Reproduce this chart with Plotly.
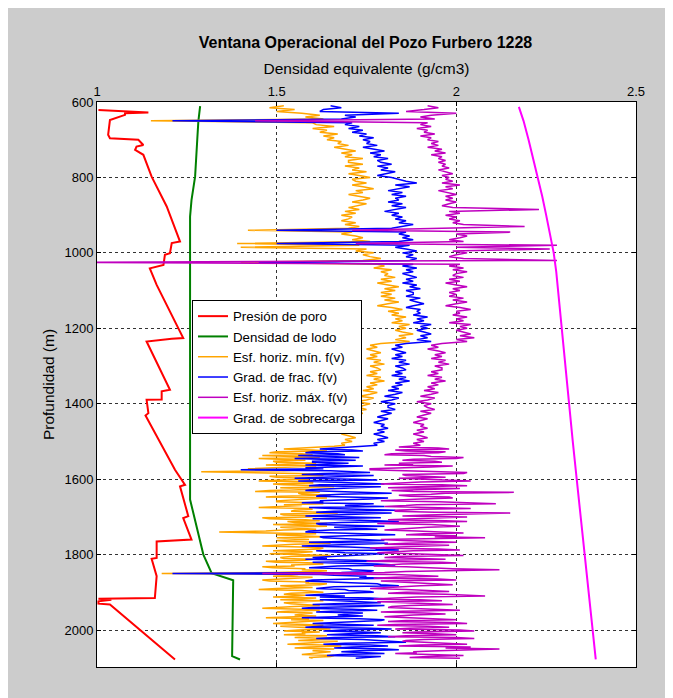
import plotly.graph_objects as go

# ---------------- data ----------------
# Presión de poro (red)
PORO_DEPTH = [621, 624, 628, 630, 634, 648, 687, 696, 700, 714, 718, 727, 736, 740, 798, 877, 970, 974,
              1001, 1005, 1032, 1041, 1085, 1226, 1228, 1235, 1363, 1367, 1389, 1389.5, 1425, 1431, 1575,
              1615, 1619, 1698, 1703, 1760, 1765, 1809, 1811, 1857, 1915, 1917, 1920, 1924, 1930, 1932, 2078]
PORO_VAL = [1.004, 1.078, 1.143, 1.078, 1.078, 1.036, 1.031, 1.036, 1.115, 1.129, 1.110, 1.106, 1.125, 1.129,
            1.152, 1.194, 1.231, 1.208, 1.203, 1.189, 1.185, 1.147, 1.166, 1.240, 1.208, 1.138, 1.203, 1.180,
            1.180, 1.138, 1.143, 1.135, 1.217, 1.245, 1.231, 1.254, 1.240, 1.263, 1.166, 1.166, 1.152, 1.166,
            1.161, 1.004, 1.040, 1.004, 1.004, 1.036, 1.217]

# Densidad de lodo (green)
LODO_DEPTH = [611, 652, 700, 798, 860, 904, 1654, 1707, 1800, 1849, 1861, 1868, 2069, 2078]
LODO_VAL = [1.287, 1.282, 1.279, 1.273, 1.263, 1.259, 1.259, 1.273, 1.296, 1.319, 1.356, 1.379, 1.376, 1.398]

# Grad. de sobrecarga (magenta)
SOBRE_DEPTH = [613, 650, 700, 750, 800, 850, 900, 950, 1000, 1050, 1100, 1200, 1300, 1400, 1500, 1600,
               1700, 1800, 1900, 2000, 2078]
SOBRE_VAL = [2.174, 2.187, 2.201, 2.214, 2.227, 2.239, 2.250, 2.261, 2.271, 2.278, 2.283, 2.294, 2.304,
             2.313, 2.324, 2.335, 2.346, 2.357, 2.368, 2.380, 2.388]

# Log samples: every 5 m from 610 to 1505 m, every 2.5 m from 1510 to 2075 m
LOG_DEPTH = list(range(610, 1510, 5)) + [1510 + 2.5 * i for i in range(227)]

ESF_MIN = [
    # 610 - 1505 (5 m)
    1.52, 1.48, 1.55, 1.50, 1.57, 1.62, 1.58, 1.63, 1.15, 1.60,
    1.61, 1.66, 1.60, 1.64, 1.62, 1.67, 1.63, 1.66, 1.64, 1.68,
    1.67, 1.70, 1.66, 1.69, 1.72, 1.68, 1.71, 1.69, 1.74, 1.70,
    1.70, 1.74, 1.69, 1.73, 1.71, 1.75, 1.70, 1.73, 1.76, 1.71,
    1.72, 1.75, 1.71, 1.74, 1.77, 1.72, 1.74, 1.70, 1.73, 1.76,
    1.74, 1.71, 1.75, 1.72, 1.70, 1.73, 1.69, 1.72, 1.68, 1.71,
    1.70, 1.68, 1.72, 1.69, 1.73, 1.70, 1.42, 1.71, 1.68, 1.72,
    1.74, 1.71, 1.76, 1.39, 1.73, 1.40, 1.75, 1.72, 1.77, 1.74,
    1.76, 1.79, 1.74, 1.40, 1.78, 1.80, 1.77, 1.82, 1.79, 1.81,
    1.80, 1.83, 1.79, 1.82, 1.78, 1.81, 1.84, 1.80, 1.83, 1.79,
    1.82, 1.79, 1.83, 1.80, 1.84, 1.81, 1.78, 1.82, 1.85, 1.81,
    1.84, 1.82, 1.86, 1.83, 1.85, 1.82, 1.87, 1.84, 1.86, 1.83,
    1.85, 1.88, 1.84, 1.86, 1.83, 1.87, 1.79, 1.76, 1.78, 1.75,
    1.77, 1.79, 1.76, 1.78, 1.75, 1.79, 1.77, 1.80, 1.76, 1.78,
    1.79, 1.76, 1.78, 1.75, 1.79, 1.77, 1.80, 1.76, 1.78, 1.75,
    1.77, 1.74, 1.78, 1.76, 1.73, 1.77, 1.75, 1.72, 1.76, 1.74,
    1.73, 1.75, 1.71, 1.74, 1.72, 1.70, 1.73, 1.71, 1.69, 1.72,
    1.70, 1.72, 1.69, 1.71, 1.68, 1.70, 1.72, 1.69, 1.71, 1.68,
    # 1510 - 2075 (2.5 m)
    1.69, 1.66, 1.62, 1.55, 1.52, 1.60, 1.64, 1.50, 1.48, 1.57, 1.60, 1.46, 1.55, 1.62, 1.45, 1.53, 1.58, 1.49, 1.50, 1.61,
    1.53, 1.47, 1.61, 1.55, 1.47, 1.42, 1.58, 1.52, 1.29, 1.50, 1.56, 1.62, 1.63, 1.48, 1.50, 1.57, 1.59, 1.51, 1.45, 1.60,
    1.60, 1.49, 1.52, 1.63, 1.66, 1.51, 1.55, 1.60, 1.48, 1.44, 1.62, 1.56, 1.57, 1.65, 1.51, 1.47, 1.64, 1.58, 1.56, 1.50,
    1.50, 1.61, 1.63, 1.52, 1.57, 1.49, 1.45, 1.59, 1.60, 1.55, 1.54, 1.62, 1.67, 1.51, 1.52, 1.63, 1.59, 1.46, 1.48, 1.58,
    1.62, 1.53, 1.55, 1.64, 1.49, 1.56, 1.64, 1.51, 1.58, 1.61, 1.52, 1.47, 1.34, 1.55, 1.61, 1.50, 1.56, 1.63, 1.50, 1.57,
    1.59, 1.50, 1.53, 1.62, 1.65, 1.55, 1.51, 1.46, 1.57, 1.63, 1.62, 1.52, 1.49, 1.60, 1.56, 1.48, 1.60, 1.65, 1.54, 1.51,
    1.52, 1.60, 1.58, 1.47, 1.50, 1.62, 1.63, 1.54, 1.55, 1.46, 1.49, 1.58, 1.57, 1.64, 1.61, 1.50, 1.18, 1.56, 1.54, 1.49,
    1.60, 1.55, 1.53, 1.46, 1.48, 1.59, 1.58, 1.64, 1.62, 1.51, 1.55, 1.60, 1.50, 1.45, 1.57, 1.61, 1.63, 1.54, 1.52, 1.58,
    1.56, 1.49, 1.61, 1.57, 1.51, 1.63, 1.58, 1.52, 1.54, 1.60, 1.62, 1.55, 1.49, 1.46, 1.57, 1.62, 1.53, 1.50, 1.60, 1.56,
    1.55, 1.61, 1.50, 1.47, 1.59, 1.54, 1.63, 1.58, 1.54, 1.49, 1.58, 1.63, 1.51, 1.56, 1.60, 1.65, 1.56, 1.52, 1.62, 1.57,
    1.58, 1.52, 1.64, 1.60, 1.55, 1.66, 1.61, 1.56, 1.67, 1.62, 1.57, 1.53, 1.63, 1.68, 1.59, 1.55, 1.66, 1.61, 1.60, 1.65,
    1.62, 1.58, 1.57, 1.66, 1.65, 1.59, 1.60,
]

GRAD_FRAC = [
    # 610 - 1505 (5 m)
    1.65, 1.68, 1.63, 1.62, 1.84, 1.69, 1.72, 1.68, 1.21, 1.71,
    1.69, 1.73, 1.70, 1.74, 1.71, 1.75, 1.73, 1.77, 1.74, 1.76,
    1.75, 1.78, 1.74, 1.77, 1.80, 1.76, 1.79, 1.77, 1.81, 1.78,
    1.79, 1.82, 1.78, 1.81, 1.79, 1.83, 1.80, 1.78, 1.82, 1.84,
    1.86, 1.89, 1.83, 1.87, 1.84, 1.81, 1.85, 1.82, 1.86, 1.83,
    1.84, 1.81, 1.85, 1.82, 1.86, 1.83, 1.80, 1.84, 1.82, 1.85,
    1.83, 1.86, 1.84, 1.88, 1.85, 1.82, 1.50, 1.86, 1.84, 1.87,
    1.85, 1.88, 1.84, 1.50, 1.87, 1.83, 1.86, 1.89, 1.85, 1.88,
    1.86, 1.89, 1.87, 1.45, 1.88, 1.85, 1.89, 1.86, 1.88, 1.85,
    1.87, 1.89, 1.86, 1.88, 1.85, 1.89, 1.87, 1.90, 1.86, 1.88,
    1.88, 1.86, 1.90, 1.87, 1.89, 1.91, 1.88, 1.86, 1.90, 1.89,
    1.90, 1.88, 1.92, 1.89, 1.91, 1.88, 1.93, 1.90, 1.92, 1.89,
    1.91, 1.93, 1.90, 1.92, 1.89, 1.93, 1.86, 1.83, 1.85, 1.82,
    1.84, 1.86, 1.83, 1.85, 1.82, 1.86, 1.84, 1.87, 1.83, 1.85,
    1.86, 1.83, 1.85, 1.82, 1.86, 1.84, 1.87, 1.83, 1.85, 1.82,
    1.84, 1.81, 1.85, 1.83, 1.80, 1.84, 1.82, 1.79, 1.83, 1.81,
    1.81, 1.83, 1.79, 1.82, 1.80, 1.78, 1.81, 1.79, 1.77, 1.80,
    1.79, 1.81, 1.78, 1.80, 1.77, 1.79, 1.81, 1.78, 1.80, 1.77,
    # 1510 - 2075 (2.5 m)
    1.78, 1.74, 1.70, 1.63, 1.62, 1.71, 1.74, 1.60, 1.58, 1.67, 1.69, 1.56, 1.64, 1.73, 1.55, 1.62, 1.72, 1.60, 1.60, 1.70,
    1.66, 1.58, 1.74, 1.66, 1.58, 1.63, 1.40, 1.65, 1.70, 1.76, 1.63, 1.57, 1.77, 1.69, 1.61, 1.55, 1.72, 1.78, 1.56, 1.64,
    1.72, 1.80, 1.62, 1.59, 1.79, 1.71, 1.66, 1.60, 1.58, 1.68, 1.75, 1.82, 1.68, 1.62, 1.61, 1.73, 1.81, 1.76, 1.70, 1.62,
    1.63, 1.57, 1.77, 1.72, 1.69, 1.80, 1.59, 1.65, 1.74, 1.83, 1.66, 1.61, 1.82, 1.75, 1.64, 1.58, 1.71, 1.79, 1.60, 1.67,
    1.76, 1.84, 1.68, 1.61, 1.62, 1.73, 1.80, 1.66, 1.71, 1.78, 1.65, 1.59, 1.58, 1.68, 1.77, 1.83, 1.69, 1.62, 1.63, 1.71,
    1.74, 1.80, 1.66, 1.59, 1.81, 1.72, 1.63, 1.57, 1.70, 1.77, 1.78, 1.84, 1.61, 1.65, 1.69, 1.80, 1.75, 1.70, 1.67, 1.60,
    1.64, 1.58, 1.72, 1.79, 1.60, 1.66, 1.78, 1.83, 1.67, 1.62, 1.59, 1.70, 1.71, 1.77, 1.76, 1.68, 1.21, 1.62, 1.66, 1.75,
    1.73, 1.80, 1.65, 1.60, 1.58, 1.67, 1.71, 1.78, 1.79, 1.84, 1.66, 1.62, 1.61, 1.69, 1.70, 1.76, 1.77, 1.68, 1.63, 1.58,
    1.69, 1.62, 1.76, 1.81, 1.62, 1.68, 1.72, 1.79, 1.66, 1.60, 1.80, 1.74, 1.60, 1.57, 1.71, 1.78, 1.65, 1.61, 1.74, 1.69,
    1.67, 1.74, 1.61, 1.57, 1.73, 1.80, 1.79, 1.71, 1.65, 1.60, 1.70, 1.77, 1.62, 1.58, 1.76, 1.82, 1.68, 1.63, 1.74, 1.79,
    1.70, 1.64, 1.78, 1.83, 1.66, 1.61, 1.74, 1.79, 1.82, 1.86, 1.69, 1.63, 1.76, 1.81, 1.71, 1.66, 1.80, 1.84, 1.73, 1.68,
    1.75, 1.80, 1.68, 1.64, 1.79, 1.75, 1.72,
]

ESF_MAX = [
    # 610 - 1505 (5 m)
    1.92, 1.95, 1.91, 1.86, 2.00, 1.93, 1.90, 1.94, 1.44, 1.92,
    1.90, 1.93, 1.89, 1.92, 1.91, 1.94, 1.90, 1.93, 1.92, 1.95,
    1.93, 1.95, 1.92, 1.96, 1.94, 1.97, 1.93, 1.96, 1.95, 1.97,
    1.95, 1.97, 1.96, 1.98, 1.95, 1.97, 1.99, 1.96, 1.98, 1.97,
    1.99, 1.96, 2.01, 1.97, 1.99, 1.95, 1.98, 2.00, 1.97, 1.99,
    1.97, 2.00, 1.98, 1.96, 1.99, 2.23, 1.98, 2.01, 1.97, 2.00,
    1.98, 2.01, 1.99, 2.02, 2.19, 1.99, 1.71, 2.15, 2.00, 2.03,
    2.01, 1.98, 2.02, 1.72, 2.28, 2.00, 2.26, 1.99, 2.03, 2.00,
    1.98, 2.02, 2.28, 0.95, 2.01, 1.98, 2.02, 1.99, 2.03, 2.00,
    1.99, 2.02, 1.98, 2.01, 1.97, 2.00, 2.03, 1.99, 2.01, 1.98,
    2.00, 1.98, 2.02, 1.99, 2.03, 2.00, 1.97, 2.01, 2.04, 2.00,
    2.01, 1.99, 2.03, 2.00, 2.02, 1.98, 2.04, 2.01, 2.03, 2.00,
    2.02, 2.04, 2.01, 2.05, 2.00, 2.03, 1.96, 1.93, 1.95, 1.92,
    1.95, 1.97, 1.94, 1.96, 1.93, 1.97, 1.95, 1.98, 1.94, 1.96,
    1.96, 1.93, 1.95, 1.92, 1.96, 1.94, 1.97, 1.93, 1.95, 1.92,
    1.94, 1.91, 1.95, 1.93, 1.90, 1.94, 1.92, 1.89, 1.93, 1.91,
    1.92, 1.94, 1.90, 1.93, 1.91, 1.89, 1.92, 1.90, 1.88, 1.91,
    1.90, 1.92, 1.89, 1.91, 1.88, 1.90, 1.92, 1.89, 1.91, 1.88,
    # 1510 - 2075 (2.5 m)
    1.90, 1.87, 1.84, 1.95, 1.98, 1.83, 1.86, 1.97, 1.95, 1.82, 1.80, 1.91, 1.93, 2.02, 2.00, 1.88, 1.85, 1.94, 1.96, 1.84,
    1.88, 1.80, 1.99, 1.93, 1.83, 1.76, 1.76, 1.88, 1.94, 2.03, 2.02, 1.85, 1.86, 1.95, 1.97, 1.84, 1.90, 1.99, 2.04, 1.90,
    1.85, 1.79, 1.96, 2.03, 1.89, 1.81, 2.01, 1.93, 1.82, 1.88, 2.16, 1.97, 1.93, 1.84, 1.87, 1.98, 1.99, 1.90, 1.84, 1.79,
    1.95, 2.02, 2.11, 1.89, 1.86, 1.80, 1.98, 2.04, 1.90, 1.83, 1.83, 1.94, 2.15, 1.97, 1.92, 1.85, 2.03, 1.96, 1.87, 1.81,
    1.97, 2.03, 1.84, 1.78, 1.93, 1.99, 2.01, 1.92, 1.88, 1.81, 1.80, 1.89, 1.96, 2.02, 1.91, 1.86, 2.00, 1.94, 2.08, 1.88,
    1.79, 1.85, 1.93, 2.00, 1.86, 1.80, 1.98, 1.91, 1.82, 1.76, 1.95, 2.01, 1.88, 1.83, 1.78, 1.88, 1.97, 2.02, 1.84, 1.80,
    1.90, 1.97, 1.81, 1.75, 1.96, 2.00, 1.85, 1.80, 1.77, 1.86, 1.93, 1.99, 2.12, 1.91, 1.86, 1.80, 1.46, 1.83, 1.89, 1.95,
    1.83, 1.77, 1.95, 2.00, 1.79, 1.85, 1.88, 1.96, 1.99, 1.90, 1.84, 1.78, 1.76, 1.86, 1.92, 1.98, 1.86, 1.81, 1.97, 2.02,
    2.08, 1.89, 1.82, 1.77, 1.90, 1.96, 1.78, 1.84, 1.94, 1.99, 1.87, 1.82, 1.81, 1.90, 1.96, 2.01, 1.85, 1.79, 1.91, 1.97,
    1.88, 1.83, 1.80, 1.87, 1.95, 2.00, 1.86, 1.81, 1.99, 2.03, 1.83, 1.78, 1.92, 1.98, 1.87, 1.83, 2.01, 2.05, 1.89, 1.85,
    1.94, 2.00, 1.86, 1.81, 2.00, 2.05, 1.91, 1.86, 1.85, 1.93, 1.98, 2.03, 1.90, 1.84, 2.04, 1.97, 2.12, 1.99, 1.95, 1.88,
    1.89, 1.83, 1.97, 2.02, 1.92, 1.87, 2.01,
]

assert len(ESF_MIN) == len(LOG_DEPTH), (len(ESF_MIN), len(LOG_DEPTH))
assert len(GRAD_FRAC) == len(LOG_DEPTH), len(GRAD_FRAC)
assert len(ESF_MAX) == len(LOG_DEPTH), len(ESF_MAX)

X_TICKS = [1, 1.5, 2, 2.5]
X_TICK_TEXT = ["1", "1.5", "2", "2.5"]
Y_TICKS = [600, 800, 1000, 1200, 1400, 1600, 1800, 2000]
Y_TICK_TEXT = ["600", "800", "1000", "1200", "1400", "1600", "1800", "2000"]

TITLE = "Ventana Operacional del Pozo Furbero 1228"
X_TITLE = "Densidad equivalente (g/cm3)"
Y_TITLE = "Profundidad (m)"

# ---------------- figure ----------------
FONT = "Liberation Sans, Arial, sans-serif"

fig = go.Figure()
fig.add_trace(go.Scatter(x=PORO_VAL, y=PORO_DEPTH, mode="lines", name="Presión de poro",
                         line=dict(color="#ff0000", width=2)))
fig.add_trace(go.Scatter(x=LODO_VAL, y=LODO_DEPTH, mode="lines", name="Densidad de lodo",
                         line=dict(color="#008000", width=2)))
fig.add_trace(go.Scatter(x=ESF_MIN, y=LOG_DEPTH, mode="lines", name="Esf. horiz. mín. f(v)",
                         line=dict(color="#ffa500", width=1.5)))
fig.add_trace(go.Scatter(x=GRAD_FRAC, y=LOG_DEPTH, mode="lines", name="Grad. de frac. f(v)",
                         line=dict(color="#0000ff", width=1.5)))
fig.add_trace(go.Scatter(x=ESF_MAX, y=LOG_DEPTH, mode="lines", name="Esf. horiz. máx. f(v)",
                         line=dict(color="#bf00bf", width=1.5)))
fig.add_trace(go.Scatter(x=SOBRE_VAL, y=SOBRE_DEPTH, mode="lines", name="Grad. de sobrecarga",
                         line=dict(color="#ff00ff", width=2)))

# the page adds an 8 px body margin, so figure coords = page coords - 8
W, H = 673, 698
ML, MT = 89, 94
MR, MB = W - 628, H - 659
pw, ph = W - ML - MR, H - MT - MB

axis_common = dict(showline=True, linecolor="black", linewidth=1, mirror="ticks",
                   ticks="inside", ticklen=4, tickcolor="black",
                   showgrid=True, gridcolor="#333333", gridwidth=1, griddash="3px,3px",
                   zeroline=False, tickfont=dict(family=FONT, size=13, color="black"))

fig.update_layout(
    width=W, height=H,
    margin=dict(l=ML, r=MR, t=MT, b=MB),
    paper_bgcolor="#cccccc", plot_bgcolor="white",
    font=dict(family=FONT, size=12, color="black"),
    title=dict(text="<b>" + TITLE + "</b>", x=(ML + pw / 2 - 1) / W, xanchor="center",
               y=1 - 34 / H, yanchor="middle", font=dict(family=FONT, size=16, color="black")),
    xaxis=dict(range=[1, 2.5], side="top", tickvals=X_TICKS, ticktext=X_TICK_TEXT,
               title=dict(text=X_TITLE, font=dict(family=FONT, size=15.5), standoff=5),
               **axis_common),
    yaxis=dict(range=[2098, 600], tickvals=Y_TICKS, ticktext=Y_TICK_TEXT,
               title=dict(text=Y_TITLE, font=dict(family=FONT, size=15.5), standoff=6),
               **axis_common),
    legend=dict(x=(184 - ML) / pw, y=(659 - 292) / ph, xanchor="left", yanchor="top",
                bgcolor="white", bordercolor="black", borderwidth=1,
                font=dict(family=FONT, size=13.3, color="black"),
                tracegroupgap=0, itemwidth=30),
    showlegend=True,
)

fig.write_html("out.html")
